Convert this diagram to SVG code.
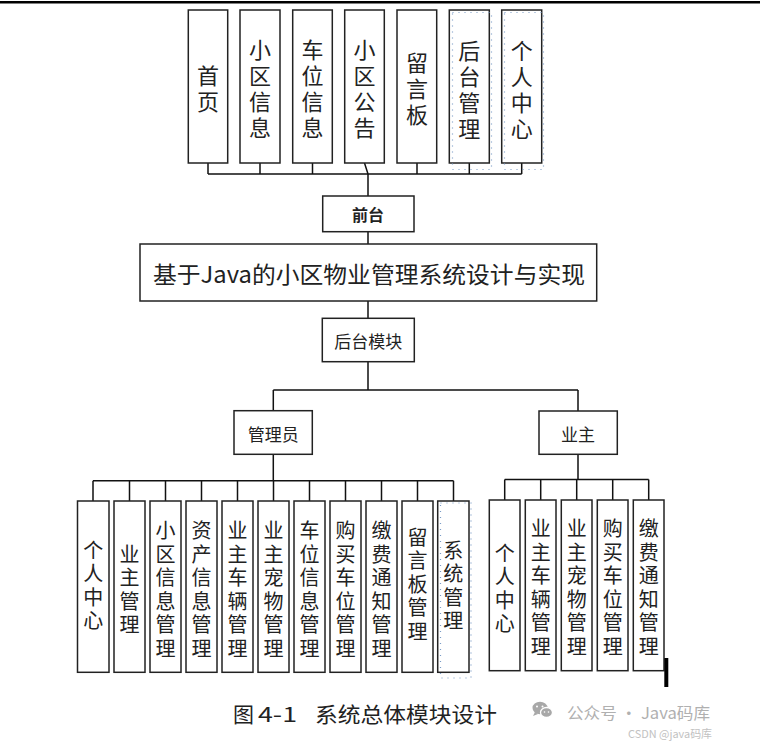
<svg xmlns="http://www.w3.org/2000/svg" width="760" height="744" viewBox="0 0 760 744">
<style>
.box{fill:#fff;stroke:#222;stroke-width:1.5}
.dot{fill:none;stroke:#7a9cc6;stroke-width:1.2;stroke-dasharray:1 5}
.ln{fill:none;stroke:#111;stroke-width:1.5}
.t{font-family:"Noto Sans CJK SC","Noto Sans CJK TC",sans-serif;fill:#222;text-anchor:middle;dominant-baseline:central}
.vt{font-family:"Noto Sans CJK SC","Noto Sans CJK TC",sans-serif;fill:#222;text-anchor:middle;writing-mode:vertical-rl}
.v22{font-size:22px;letter-spacing:4px}
.v20{font-size:20px;letter-spacing:3.5px}
.h17{font-size:17px}
</style>
<rect x="0" y="0" width="760" height="744" fill="#fff"/>
<rect x="0" y="1" width="760" height="2.5" fill="#000"/>

<g id="connectors">
<path class="ln" d="M208 163V174M260 163V174M312.5 163V174M364.5 163L368 174M417 163V174M469.3 163V174M521.7 163V174M208 174H521.7"/>
<path class="ln" d="M368 174V196M368 231.7V244M368 301V318.3M368 361.7V390M273.3 390H578M273.3 390V410.7M578 390V411"/>
<path class="ln" d="M273.3 454.3V480.7M93 480.7H453.5M93 480.7V501M129.5 480.7V501M165.5 480.7V501M201.5 480.7V501M237.5 480.7V501M273.5 480.7V501M309.5 480.7V501M345.5 480.7V501M381.5 480.7V501M417.5 480.7V501M453.5 480.7V501"/>
<path class="ln" d="M578 454.3V479.5M504.7 479.5H648.7M504.7 479.5V500M540.7 479.5V500M576.7 479.5V500M612.7 479.5V500M648.7 479.5V500"/>
</g>

<g id="top-shouye"><rect class="box" x="188.3" y="10" width="39.4" height="153"/>
<text class="vt v22" x="208" y="91">首页</text></g>
<g id="top-xiaoquxinxi"><rect class="box" x="240" y="10" width="40" height="153"/>
<text class="vt v22" x="260" y="91">小区信息</text></g>
<g id="top-chewei"><rect class="box" x="292.7" y="10" width="39.6" height="153"/>
<text class="vt v22" x="312.5" y="91">车位信息</text></g>
<g id="top-gonggao"><rect class="box" x="344.7" y="10" width="39.6" height="153"/>
<text class="vt v22" x="364.5" y="91">小区公告</text></g>
<g id="top-liuyanban"><rect class="box" x="397" y="10" width="39.7" height="153"/>
<text class="vt v22" x="417" y="91">留言板</text></g>
<g id="top-houtai"><rect class="box" x="449.3" y="10" width="40" height="153"/>
<rect class="dot" x="452.5" y="12.5" width="39" height="157"/>
<text class="vt v22" x="469.3" y="92">后台管理</text></g>
<g id="top-geren"><rect class="box" x="501.7" y="10" width="40" height="153"/>
<rect class="dot" x="504.5" y="12.5" width="39" height="157"/>
<text class="vt v22" x="521.7" y="92">个人中心</text></g>

<g id="qiantai"><rect class="box" x="322.7" y="196" width="91.3" height="35.7"/>
<text class="t" x="368" y="214" font-size="16" font-weight="bold">前台</text></g>

<g id="title"><rect class="box" x="140" y="244" width="456.7" height="57"/>
<text class="t" x="369" y="273" font-size="23" textLength="432" lengthAdjust="spacingAndGlyphs">基于Java的小区物业管理系统设计与实现</text></g>

<g id="houtaimokuai"><rect class="box" x="322.3" y="318.3" width="92" height="43.4"/>
<text class="t h17" x="368.3" y="340">后台模块</text></g>

<g id="guanliyuan"><rect class="box" x="234" y="410.7" width="78.3" height="43.6"/>
<text class="t h17" x="273.3" y="433">管理员</text></g>

<g id="yezhu"><rect class="box" x="539" y="411" width="78.3" height="43.3"/>
<text class="t h17" x="578" y="433">业主</text></g>

<g id="a-geren"><rect class="box" x="77.5" y="501" width="31.5" height="171.3"/>
<text class="vt v20" x="93.2" y="587">个人中心</text></g>
<g id="a-yezhu"><rect class="box" x="114" y="501" width="31" height="171.3"/>
<text class="vt v20" x="129.5" y="591">业主管理</text></g>
<g id="a-xiaoqu"><rect class="box" x="150" y="501" width="31" height="171.3"/>
<text class="vt v20" x="165.5" y="591">小区信息管理</text></g>
<g id="a-zichan"><rect class="box" x="186" y="501" width="31" height="171.3"/>
<text class="vt v20" x="201.5" y="591">资产信息管理</text></g>
<g id="a-cheliang"><rect class="box" x="222" y="501" width="31" height="171.3"/>
<text class="vt v20" x="237.5" y="591">业主车辆管理</text></g>
<g id="a-chongwu"><rect class="box" x="258" y="501" width="31" height="171.3"/>
<text class="vt v20" x="273.5" y="591">业主宠物管理</text></g>
<g id="a-chewei"><rect class="box" x="294" y="501" width="31" height="171.3"/>
<text class="vt v20" x="309.5" y="591">车位信息管理</text></g>
<g id="a-goumai"><rect class="box" x="330" y="501" width="31" height="171.3"/>
<text class="vt v20" x="345.5" y="591">购买车位管理</text></g>
<g id="a-jiaofei"><rect class="box" x="366" y="501" width="31" height="171.3"/>
<text class="vt v20" x="381.5" y="591">缴费通知管理</text></g>
<g id="a-liuyan"><rect class="box" x="402" y="501" width="31" height="171.3"/>
<text class="vt v20" x="417.5" y="586">留言板管理</text></g>
<g id="a-xitong"><rect class="box" x="437.7" y="501" width="31.3" height="171.3"/>
<rect class="dot" x="440.5" y="503" width="30.5" height="175"/>
<text class="vt v20" x="453.3" y="587">系统管理</text></g>

<g id="b-geren"><rect class="box" x="489.3" y="500" width="30.7" height="170.7"/>
<text class="vt v20" x="504.7" y="590">个人中心</text></g>
<g id="b-cheliang"><rect class="box" x="525.3" y="500" width="30.7" height="170.7"/>
<text class="vt v20" x="540.7" y="589">业主车辆管理</text></g>
<g id="b-chongwu"><rect class="box" x="561.3" y="500" width="30.7" height="170.7"/>
<text class="vt v20" x="576.7" y="589">业主宠物管理</text></g>
<g id="b-goumai"><rect class="box" x="597.3" y="500" width="30.7" height="170.7"/>
<text class="vt v20" x="612.7" y="589">购买车位管理</text></g>
<g id="b-jiaofei"><rect class="box" x="633.3" y="500" width="30.7" height="170.7"/>
<text class="vt v20" x="648.7" y="589">缴费通知管理</text></g>
<rect x="664.3" y="658" width="4" height="29" fill="#000"/>

<g id="caption" font-family="'Noto Sans CJK SC',sans-serif" font-size="21" fill="#222" dominant-baseline="central">
<text x="233" y="713">图</text>
<text x="258" y="713" textLength="39" lengthAdjust="spacingAndGlyphs">4-1</text>
<text x="315" y="713" textLength="182" lengthAdjust="spacingAndGlyphs">系统总体模块设计</text>
</g>

<g id="watermark">
<ellipse cx="540" cy="708" rx="7.5" ry="6.2" fill="#a8a8a8"/>
<path d="M535 712 l-2 4 l5 -2 z" fill="#a8a8a8"/>
<ellipse cx="546.5" cy="712.5" rx="6" ry="5" fill="#a8a8a8" stroke="#fff" stroke-width="1.3"/>
<circle cx="537" cy="706.5" r="1" fill="#fff"/><circle cx="542.5" cy="706.5" r="1" fill="#fff"/>
<circle cx="544.5" cy="712" r="0.8" fill="#fff"/><circle cx="548.5" cy="712" r="0.8" fill="#fff"/>
<text x="567" y="712" font-family="'Noto Sans CJK SC',sans-serif" font-size="16" fill="#b0b0b0" dominant-baseline="central" textLength="143" lengthAdjust="spacingAndGlyphs">公众号 · Java码库</text>
<text x="628" y="733" font-family="'Noto Sans CJK SC',sans-serif" font-size="11" fill="#c2c2c2" dominant-baseline="central" textLength="84" lengthAdjust="spacingAndGlyphs">CSDN @java码库</text>
</g>
</svg>
